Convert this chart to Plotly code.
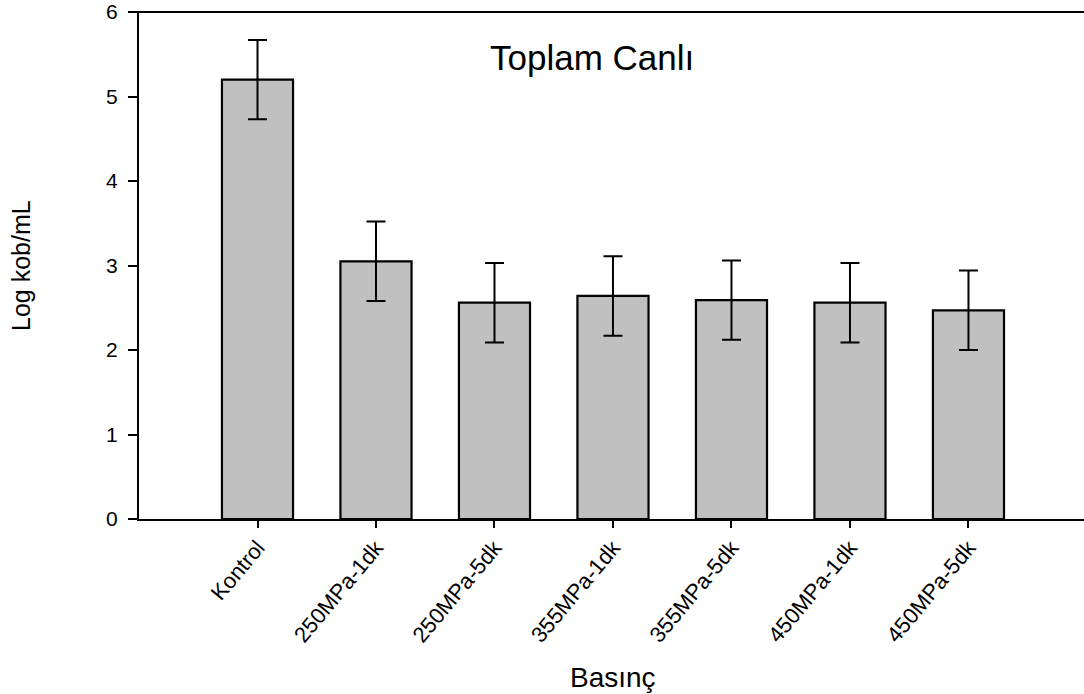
import plotly.graph_objects as go

categories = ["Kontrol", "250MPa-1dk", "250MPa-5dk", "355MPa-1dk",
              "355MPa-5dk", "450MPa-1dk", "450MPa-5dk"]
values = [5.20, 3.05, 2.56, 2.64, 2.59, 2.56, 2.47]
errors = [0.47, 0.47, 0.47, 0.47, 0.47, 0.47, 0.47]
y_ticks = [0, 1, 2, 3, 4, 5, 6]

FONT = "Liberation Sans, Arial, sans-serif"

fig = go.Figure()
fig.add_trace(go.Bar(
    x=categories, y=values, width=0.6,
    marker=dict(color="#C0C0C0", line=dict(color="black", width=2.2)),
    error_y=dict(type="data", array=errors, visible=True,
                 color="black", thickness=2, width=9.5),
    showlegend=False,
))

fig.update_layout(
    width=1084, height=694,
    margin=dict(l=139, r=0, t=12, b=175, autoexpand=False),
    paper_bgcolor="white", plot_bgcolor="white",
    font=dict(family=FONT, color="black"),
    xaxis=dict(
        type="category", range=[-1, 6.975],
        showline=True, linecolor="black", linewidth=2,
        ticks="outside", ticklen=7, tickwidth=2, tickcolor="black",
        tickangle=-50, tickfont=dict(size=22, family=FONT, color="black"),
        ticklabelstandoff=-2,
        showgrid=False, zeroline=False, automargin=False,
    ),
    yaxis=dict(
        range=[0, 6], tickvals=y_ticks,
        showline=True, linecolor="black", linewidth=2,
        ticks="outside", ticklen=9, tickwidth=2, tickcolor="black",
        tickfont=dict(size=21, family=FONT, color="black"),
        ticklabelstandoff=6,
        showgrid=False, zeroline=False, automargin=False,
    ),
    shapes=[dict(type="line", xref="paper", yref="paper",
                 x0=-0.01, x1=1, y0=1, y1=1,
                 line=dict(color="black", width=2))],
    annotations=[
        dict(text="Toplam Canlı", xref="paper", yref="paper",
             x=0.4794, y=0.911, xanchor="center", yanchor="middle",
             showarrow=False, font=dict(size=35, family=FONT, color="black")),
        dict(text="Basınç", xref="paper", yref="paper",
             x=0.5016, y=-0.312, xanchor="center", yanchor="middle",
             showarrow=False, font=dict(size=28, family=FONT, color="black")),
        dict(text="Log kob/mL", xref="paper", yref="paper",
             x=-0.1249, y=0.501, xanchor="center", yanchor="middle",
             textangle=-90,
             showarrow=False, font=dict(size=25, family=FONT, color="black")),
    ],
)

fig.write_html("out.html")
